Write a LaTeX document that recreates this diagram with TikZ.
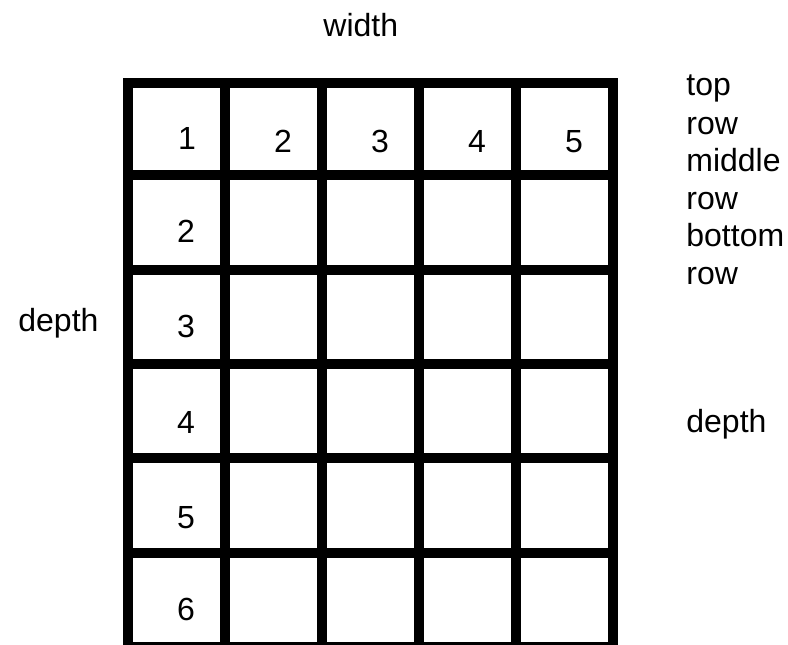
\documentclass[tikz,border=0pt]{standalone}
\usepackage{fontspec}
\setmainfont{Liberation Sans}
\begin{document}
\begin{tikzpicture}[x=0.5pt,y=-0.5pt,
  gridline/.style={line width=5pt,line cap=rect},
  lab/.style={font=\fontsize{16pt}{19pt}\selectfont,inner sep=0pt,anchor=base west},
  num/.style={font=\fontsize{16pt}{19pt}\selectfont,inner sep=0pt,anchor=base}]
\path[use as bounding box] (0,0) rectangle (788,644);
\clip (0,0) rectangle (788,644);
% grid
\foreach \x in {128,225,322,419,516,613}
  \draw[gridline] (\x,83) -- (\x,647);
\foreach \y in {83,175,269.5,364,458,552.5,647}
  \draw[gridline] (128,\y) -- (613,\y);
% numbers
\node[num] (c1) at (187,149) {1};
\node[num] (c2) at (283,152) {2};
\node[num] (c3) at (380,152) {3};
\node[num] (c4) at (477,152) {4};
\node[num] (c5) at (574,152) {5};
\node[num] (r2) at (186,242) {2};
\node[num] (r3) at (186,337) {3};
\node[num] (r4) at (186,433) {4};
\node[num] (r5) at (186,528) {5};
\node[num] (r6) at (186,620) {6};
% labels
\node[lab] (width) at (323,36) {width};
\node[lab] (ldepth) at (18,331) {depth};
\node[lab] (top) at (686,95) {top};
\node[lab] (row1) at (686,134) {row};
\node[lab] (mid) at (686,171) {middle};
\node[lab] (row2) at (686,209) {row};
\node[lab] (bot) at (686,246) {bottom};
\node[lab] (row3) at (686,284) {row};
\node[lab] (rdepth) at (686,432) {depth};
\end{tikzpicture}
\end{document}
